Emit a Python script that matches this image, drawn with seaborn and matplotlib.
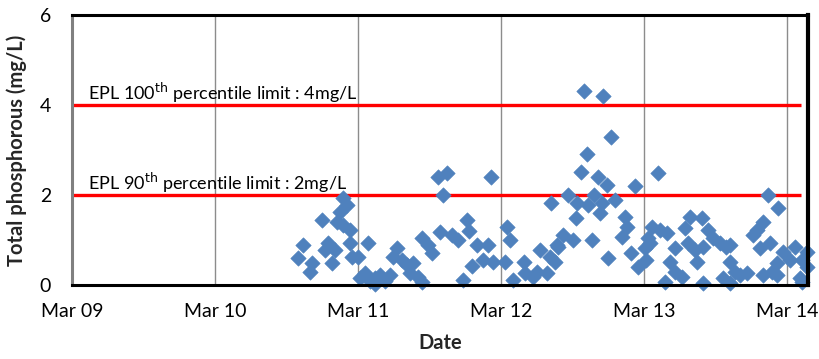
import numpy as np
import pandas as pd
import matplotlib
matplotlib.use("Agg")
import matplotlib.pyplot as plt
import matplotlib.dates as mdates
import seaborn as sns

# Sample times, in days after 09 March 00:00
sample_day = [
    1.580, 1.615, 1.664, 1.678, 1.748, 1.769, 1.790, 1.818, 1.839, 1.853,
    1.874, 1.895, 1.923, 1.895, 1.944, 1.944, 1.958, 2.000, 2.070, 2.049,
    2.014, 2.119, 2.120, 2.084, 2.154, 2.189, 2.224, 2.245, 2.273, 2.308,
    2.343, 2.364, 2.385, 2.420, 2.448, 2.448, 2.490, 2.517, 2.559, 2.622,
    2.594, 2.573, 2.657, 2.699, 2.762, 2.734, 2.776, 2.797, 2.832, 2.874,
    2.909, 2.930, 2.944, 3.028, 3.042, 3.063, 3.084, 3.161, 3.168, 3.224,
    3.252, 3.273, 3.322, 3.343, 3.350, 3.392, 3.378, 3.399, 3.434, 3.469,
    3.503, 3.524, 3.531, 3.559, 3.580, 3.601, 3.608, 3.636, 3.650, 3.678,
    3.692, 3.706, 3.713, 3.741, 3.748, 3.769, 3.797, 3.846, 3.867, 3.881,
    3.909, 3.937, 3.958, 4.007, 4.014, 4.028, 4.042, 4.056, 4.098, 4.112,
    4.147, 4.161, 4.182, 4.217, 4.217, 4.266, 4.287, 4.308, 4.322, 4.357,
    4.371, 4.406, 4.413, 4.413, 4.448, 4.483, 4.531, 4.552, 4.573, 4.601,
    4.601, 4.636, 4.671, 4.720, 4.601, 4.762, 4.790, 4.811, 4.832, 4.832,
    4.867, 4.881, 4.895, 4.930, 4.930, 4.937, 4.972, 5.021, 5.056, 5.091,
    5.105, 5.105, 5.140, 5.140,
]

# Total phosphorous (mg/L)
phosphorous = [
    0.60, 0.89, 0.29, 0.49, 1.44, 0.78, 0.93, 0.49, 0.78, 1.40,
    1.62, 1.93, 1.78, 1.33, 1.22, 0.93, 0.62, 0.62, 0.93, 0.27,
    0.16, 0.16, 0.02, 0.10, 0.22, 0.10, 0.22, 0.62, 0.82, 0.56,
    0.44, 0.27, 0.50, 0.18, 0.07, 1.04, 0.89, 0.71, 2.40, 2.49,
    2.00, 1.18, 1.11, 1.00, 1.44, 0.11, 1.20, 0.42, 0.89, 0.56,
    0.89, 2.40, 0.51, 0.51, 1.29, 1.00, 0.11, 0.51, 0.27, 0.18,
    0.29, 0.78, 0.27, 0.62, 1.82, 0.89, 0.51, 0.84, 1.11, 2.00,
    1.00, 1.49, 1.82, 2.51, 4.31, 2.91, 1.78, 1.00, 2.00, 2.40,
    1.60, 1.82, 4.20, 2.22, 0.60, 3.29, 1.89, 1.07, 1.51, 1.29,
    0.71, 2.20, 0.40, 0.82, 0.56, 1.04, 0.93, 1.29, 2.49, 1.22,
    0.07, 1.16, 0.51, 0.82, 0.29, 0.18, 1.27, 0.93, 1.51, 0.78,
    0.51, 1.49, 0.84, 0.04, 1.22, 1.04, 0.93, 0.16, 0.84, 0.51,
    0.04, 0.29, 0.22, 0.27, 0.89, 1.11, 1.22, 0.82, 1.40, 0.22,
    2.00, 0.93, 0.29, 0.49, 0.22, 1.71, 0.73, 0.56, 0.84, 0.16,
    0.56, 0.07, 0.73, 0.40,
]

# Guideline limits
limit_values = [4, 2]
limit_labels = ["EPL 100$^{\\mathrm{th}}$ percentile limit : 4mg/L",
                "EPL 90$^{\\mathrm{th}}$ percentile limit : 2mg/L"]

y_ticks = [0, 2, 4, 6]

start = pd.Timestamp("2011-03-09")
tick_dates = pd.date_range(start, periods=6, freq="D")

df = pd.DataFrame({
    "Date": start + pd.to_timedelta(sample_day, unit="D"),
    "Total phosphorous (mg/L)": phosphorous,
})

sns.set_theme(style="white")
plt.rcParams["font.family"] = ["Lato", "DejaVu Sans"]

fig = plt.figure(figsize=(8.2, 3.59), dpi=100)
ax = fig.add_axes([72 / 820, 74 / 359, 736 / 820, 270 / 359])

x_end = start + pd.Timedelta(days=5.147)
ax.set_xlim(start, x_end)
ax.set_ylim(0, 6)

# vertical day gridlines
for d in tick_dates[1:]:
    ax.axvline(d, color="#8c8c8c", lw=1.0, zorder=1)

# limit lines
line_end = start + pd.Timedelta(days=5.1)
for v, lab in zip(limit_values, limit_labels):
    ax.plot([start, line_end], [v, v], color="#ff0000", lw=2.4, zorder=2,
            solid_capstyle="butt")
    ax.text(start + pd.Timedelta(days=0.115), v + 0.27, lab,
            fontsize=13, color="black", va="center", ha="left", zorder=3)

sns.scatterplot(data=df, x="Date", y="Total phosphorous (mg/L)", ax=ax,
                marker="D", s=62, color="#4f81bd", edgecolor="#4f81bd",
                linewidth=0.4, zorder=4, clip_on=False)

ax.set_xticks(tick_dates)
ax.xaxis.set_major_formatter(mdates.DateFormatter("%b %d"))
ax.set_yticks(y_ticks)
ax.tick_params(axis="both", length=0, labelsize=14, colors="black")
ax.tick_params(axis="x", pad=13)
ax.tick_params(axis="y", pad=15)

ax.set_xlabel("Date", fontsize=14.5, fontweight="bold", labelpad=9)
ax.set_ylabel("Total phosphorous (mg/L)", fontsize=14.5, fontweight="bold",
              labelpad=9)

for side in ["top", "right", "bottom"]:
    ax.spines[side].set_color("black")
ax.spines["top"].set_linewidth(2.2)
ax.spines["right"].set_linewidth(3.0)
ax.spines["bottom"].set_linewidth(2.2)
ax.spines["left"].set_color("#808080")
ax.spines["left"].set_linewidth(2.2)
for s in ax.spines.values():
    s.set_zorder(5)

fig.savefig("out.png", dpi=100)
